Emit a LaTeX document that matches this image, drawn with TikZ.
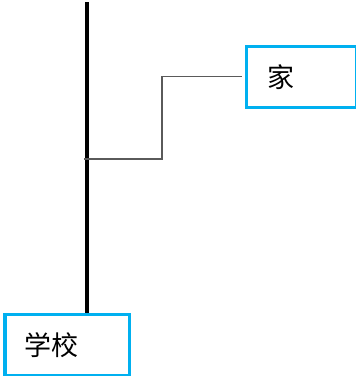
\documentclass[tikz,border=0pt]{standalone}
\usepackage{fontspec}
\newfontfamily\cjk{Noto Sans CJK SC}
\usepackage{xcolor}
\usepackage{tikz}
\usetikzlibrary{positioning}
\definecolor{boxblue}{HTML}{00B0F0}
\definecolor{linkgray}{HTML}{5A5A5A}
\tikzset{
  place/.style={rectangle, draw=boxblue, line width=3.5pt, fill=white, minimum height=61pt, align=left, font=\cjk\fontsize{27}{30}\selectfont},
  trunk/.style={line width=4.2pt, black},
  link/.style={line width=1.1pt, linkgray},
}
\begin{document}
\begin{tikzpicture}[x=1pt, y=1pt]
    \useasboundingbox (0,0) rectangle (356,-376);
    \node[place, inner xsep=19pt, text width=86pt, anchor=north west] (school) at (3.5,-312.5) {学校};
    \node[place, inner xsep=21pt, text width=68pt, anchor=north west] (home) at (244.5,-44.5) {家};
    \coordinate (top) at (87,-2);
    \coordinate (branch) at (84,-159);
    \draw[trunk] (top) -- (top |- school.north);
    \draw[link, shorten >=3pt] (branch) -- ++(78,0) |- (home.west);
  \end{tikzpicture}
\end{document}
